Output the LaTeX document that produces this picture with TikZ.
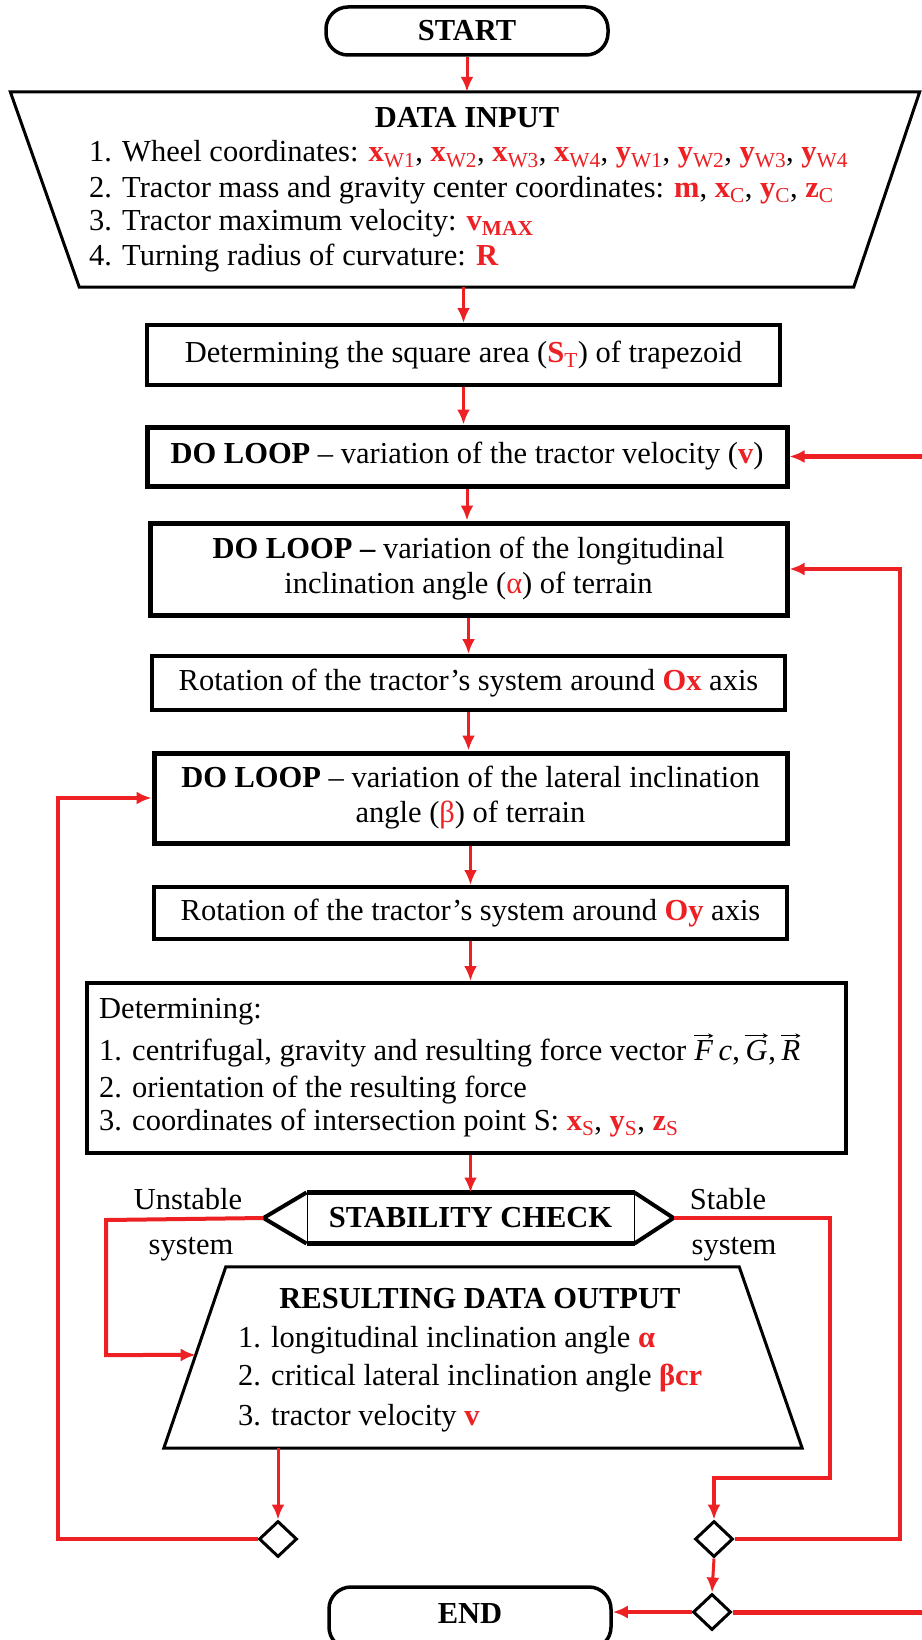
\documentclass[tikz,border=0pt]{standalone}
\usepackage{fontspec}
\setmainfont{Liberation Serif}
\usetikzlibrary{shapes.geometric,arrows.meta,calc}
\definecolor{fr}{RGB}{237,32,36}
\newcommand\rb[1]{\textcolor{fr}{\textbf{#1}}}
\newcommand\rs[2]{\textcolor{fr}{\textbf{#1}\textsubscript{#2}}}
\newcommand\vv[1]{\tikz[baseline=(vecv.base),x=1pt,y=1pt]{\node[inner sep=0,font=\fontsize{30.5}{35}\selectfont\itshape](vecv){#1};\draw[-{Stealth[length=5pt,width=5pt]},line width=0.9pt] ([yshift=4pt]vecv.north west) -- ([yshift=4pt]vecv.north east);}}
\begin{document}
\begin{tikzpicture}[x=1pt,y=-1pt,
  every node/.style={font=\fontsize{30.5}{35}\selectfont},
  term/.style={draw, line width=3.5pt, rounded corners=22pt, minimum width=282pt, inner sep=0, font=\fontsize{30.5}{35}\selectfont\bfseries},
  pbox/.style={draw, line width=4pt, inner sep=0, align=center},
  lbox/.style={pbox, line width=5pt},
  txt/.style={inner sep=0, anchor=base west},
  ctxt/.style={inner sep=0, anchor=base},
  conn/.style={draw=fr, line width=3pt, -{Latex[length=15pt,width=13pt]}},
  dmd/.style={diamond, draw, line width=3pt, minimum width=38pt, minimum height=36pt, inner sep=0},
]
\useasboundingbox (0,0) rectangle (921,1640);
\fill[white] (0,0) rectangle (921,1640);

% START
\node[term, minimum height=48pt] (start) at (467,31) {START};

% DATA INPUT trapezoid
\node[inner sep=0, minimum width=909pt, minimum height=195pt] (inp) at (465,189.5) {};
\draw[line width=3pt, line join=miter] (inp.north west) -- (inp.north east) -- ([xshift=-66pt]inp.south east) -- ([xshift=69pt]inp.south west) -- cycle;
\node[ctxt] (inT) at (467,128) {\textbf{DATA INPUT}};
\node[txt] (in1) at (89,162) {1. Wheel coordinates: \rs{x}{W1}, \rs{x}{W2}, \rs{x}{W3}, \rs{x}{W4}, \rs{y}{W1}, \rs{y}{W2}, \rs{y}{W3}, \rs{y}{W4}};
\node[txt] (in2) at (89,197) {2. Tractor mass and gravity center coordinates: \rb{m}, \rs{x}{C}, \rs{y}{C}, \rs{z}{C}};
\node[txt] (in3) at (89,230) {3. Tractor maximum velocity: \rs{v}{\textbf{MAX}}};
\node[txt] (in4) at (89,265) {4. Turning radius of curvature: \rb{R}};

% boxes
\node[pbox, minimum width=633pt, minimum height=60pt] (b1) at (463.5,355) {Determining the square area (\rs{S}{T}) of trapezoid};
\node[lbox, minimum width=640pt, minimum height=59pt] (b2) at (467,456.5) {\textbf{DO LOOP} -- variation of the tractor velocity (\rb{v})};
\node[lbox, minimum width=637pt, minimum height=92pt] (b3) at (468.5,569) {\textbf{DO LOOP --} variation of the longitudinal\\inclination angle (\textcolor{fr}{α}) of terrain};
\node[pbox, minimum width=633pt, minimum height=54pt] (b4) at (468.5,683) {Rotation of the tractor’s system around \rb{Ox} axis};
\node[lbox, minimum width=633pt, minimum height=90pt] (b5) at (470.5,798) {\textbf{DO LOOP} -- variation of the lateral inclination\\angle (\textcolor{fr}{β}) of terrain};
\node[pbox, minimum width=633pt, minimum height=52pt] (b6) at (470.5,913) {Rotation of the tractor’s system around \rb{Oy} axis};
\node[pbox, minimum width=759pt, minimum height=170pt] (b7) at (466.5,1068) {};
\node[txt] (b7t) at (99,1018) {Determining:};
\node[txt] (b7a) at (99,1060) {1. centrifugal, gravity and resulting force vector \vv{F}\,\textit{c},\,\vv{G},\,\vv{R}};
\node[txt] (b7b) at (99,1097) {2. orientation of the resulting force};
\node[txt] (b7c) at (99,1130) {3. coordinates of intersection point S: \rs{x}{S}, \rs{y}{S}, \rs{z}{S}};

% stability check
\node[draw, line width=1pt, inner sep=0, minimum width=327pt, minimum height=50pt, font=\fontsize{30.5}{35}\selectfont\bfseries] (chk) at (470.5,1218) {STABILITY CHECK};
\draw[line width=5pt] (chk.north west) -- (chk.north east);
\draw[line width=5pt] (chk.south west) -- (chk.south east);
\coordinate (chkL) at ([xshift=-43pt]chk.west);
\coordinate (chkR) at ([xshift=39pt]chk.east);
\draw[line width=4pt, line join=miter] (chk.north west) -- (chkL) -- (chk.south west);
\draw[line width=4pt, line join=miter] (chk.north east) -- (chkR) -- (chk.south east);
\node[ctxt] (lu1) at (188,1209) {Unstable};
\node[ctxt] (lu2) at (191,1254) {system};
\node[ctxt] (ls1) at (728,1209) {Stable};
\node[ctxt] (ls2) at (734,1254) {system};

% RESULTING DATA OUTPUT trapezoid
\node[inner sep=0, minimum width=638pt, minimum height=181pt] (outp) at (483,1357.5) {};
\draw[line width=3pt, line join=miter] ([xshift=62pt]outp.north west) -- ([xshift=-63pt]outp.north east) -- (outp.south east) -- (outp.south west) -- cycle;
\node[ctxt] (oT) at (480,1308) {\textbf{RESULTING DATA OUTPUT}};
\node[txt] (o1) at (238,1347) {1. longitudinal inclination angle \textcolor{fr}{\textbf{α}}};
\node[txt] (o2) at (238,1385) {2. critical lateral inclination angle \textcolor{fr}{\textbf{βcr}}};
\node[txt] (o3) at (238,1425) {3. tractor velocity \rb{v}};

% diamonds and END
\node[dmd] (d1) at (278,1539) {};
\node[dmd] (d2) at (714,1539) {};
\node[dmd] (d3) at (712,1612) {};
\node[term, minimum height=62pt] (end) at (470,1618) {};
\node[ctxt] (endt) at (470,1623) {\textbf{END}};

% connectors
\draw[conn] (start.south) -- (start.south |- inp.north);
\draw[conn] (b1.north |- inp.south) -- (b1.north);
\draw[conn] (b1.south) -- (b1.south |- b2.north);
\draw[conn] (b2.south) -- (b2.south |- b3.north);
\draw[conn] (b3.south) -- (b3.south |- b4.north);
\draw[conn] (b4.south) -- (b4.south |- b5.north);
\draw[conn] (b5.south) -- (b5.south |- b6.north);
\draw[conn] (b6.south) -- (b6.south |- b7.north);
\draw[conn] (chk.north |- b7.south) -- (chk.north);
% unstable branch
\draw[conn, line width=4pt] (chkL) -- (106,1220) -- (106,1355) -- ($([xshift=62pt]outp.north west)!0.486!(outp.south west)$);
% stable branch
\draw[conn, line width=4pt] (chkR) -- (830,1218) -- (830,1478) -- (d2.north |- 0,1478) -- (d2.north);
% output to d1
\draw[conn] (d1.north |- outp.south) -- (d1.north);
% loops
\draw[conn, line width=4pt] (d1.west) -- (58,1539) -- (58,798) -- (b5.west);
\draw[conn, line width=3.5pt] (d2.east) -- (900,1539) -- (900,569) -- (b3.east);
\draw[conn] (d2.south) -- (d3.north);
\draw[conn, line width=5pt] (d3.east) -- (935,1612) -- (935,456.5) -- (b2.east);
\draw[conn, line width=4pt] (d3.west) -- (d3.west -| end.east);
\end{tikzpicture}
\end{document}
